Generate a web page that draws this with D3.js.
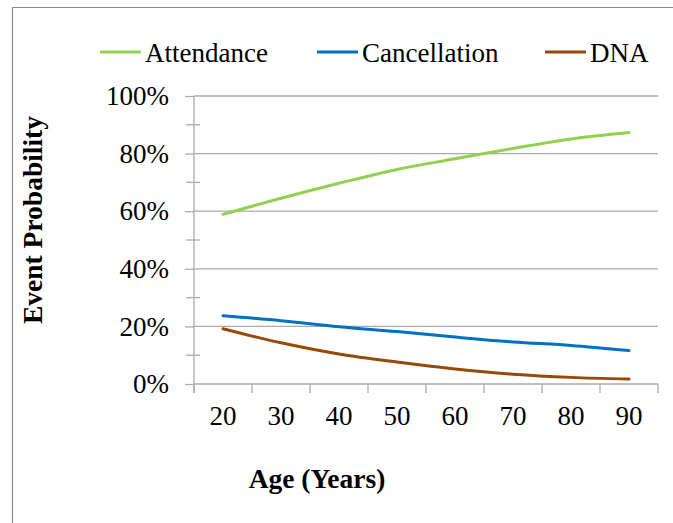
<!DOCTYPE html>
<html>
<head>
<meta charset="utf-8">
<script src="https://cdn.jsdelivr.net/npm/d3@7"></script>
<style>
  html, body { margin: 0; padding: 0; background: #fff; }
  svg { display: block; }
  text { font-family: "Liberation Serif", "Times New Roman", serif; fill: #000; }
</style>
</head>
<body>
<svg id="chart" width="673" height="523"></svg>
<script>
const ages = ["20", "30", "40", "50", "60", "70", "80", "90"];
const attendance   = [0.589, 0.645, 0.697, 0.745, 0.782, 0.818, 0.851, 0.873];
const cancellation = [0.237, 0.220, 0.199, 0.182, 0.163, 0.146, 0.134, 0.116];
const dna          = [0.192, 0.143, 0.104, 0.076, 0.052, 0.034, 0.023, 0.017];
const yTicks = [0, 0.2, 0.4, 0.6, 0.8, 1.0];
const yMinorTicks = [0.1, 0.3, 0.5, 0.7, 0.9];
const seriesNames = ["Attendance", "Cancellation", "DNA"];
const seriesColors = ["#92D050", "#0070C0", "#984807"];
const seriesValues = [attendance, cancellation, dna];

(function () {
const svg = d3.select("#chart");
const pLeft = 194, pRight = 658, pTop = 96, pBottom = 384;

// outer frame
svg.append("path")
  .attr("d", "M12.5,530 L12.5,7.5 L680,7.5")
  .attr("fill", "none").attr("stroke", "#8c8c8c").attr("stroke-width", 1.2);

const x = d3.scaleBand().domain(ages).range([pLeft, pRight]).paddingInner(0).paddingOuter(0);
const y = d3.scaleLinear().domain([0, 1]).range([pBottom, pTop]);

const gridColor = "#ababab";

// gridlines
svg.append("g").selectAll("line").data(yTicks.filter(d => d > 0)).join("line")
  .attr("x1", pLeft).attr("x2", pRight)
  .attr("y1", d => y(d)).attr("y2", d => y(d))
  .attr("stroke", gridColor).attr("stroke-width", 1.3);

// y axis
const yAxis = d3.axisLeft(y).tickValues(yTicks).tickSize(9).tickPadding(16)
  .tickFormat(d3.format(".0%"));
const gy = svg.append("g").attr("transform", `translate(${pLeft},0)`).call(yAxis);
gy.select(".domain").remove();
gy.selectAll(".tick line").attr("stroke", gridColor).attr("stroke-width", 1.3);
gy.selectAll(".tick text").attr("font-size", 27)
  .attr("font-family", "Liberation Serif, Times New Roman, serif").attr("fill", "#000");
svg.append("line").attr("x1", pLeft).attr("x2", pLeft).attr("y1", pTop).attr("y2", pBottom + 9)
  .attr("stroke", gridColor).attr("stroke-width", 1.3);
// minor ticks (cross)
svg.append("g").selectAll("line").data(yMinorTicks).join("line")
  .attr("x1", pLeft - 8).attr("x2", pLeft + 6)
  .attr("y1", d => y(d)).attr("y2", d => y(d))
  .attr("stroke", gridColor).attr("stroke-width", 1.3);

// x axis
const xAxis = d3.axisBottom(x).tickSize(0).tickPadding(22);
const gx = svg.append("g").attr("transform", `translate(0,${pBottom})`).call(xAxis);
gx.select(".domain").remove();
gx.selectAll(".tick text").attr("font-size", 27)
  .attr("font-family", "Liberation Serif, Times New Roman, serif").attr("fill", "#000");
svg.append("line").attr("x1", pLeft).attr("x2", pRight).attr("y1", pBottom).attr("y2", pBottom)
  .attr("stroke", gridColor).attr("stroke-width", 1.3);
// tick marks between categories
const boundaries = ages.map(a => x(a)).concat([x(ages[ages.length - 1]) + x.bandwidth()]);
svg.append("g").selectAll("line").data(boundaries).join("line")
  .attr("x1", d => d).attr("x2", d => d)
  .attr("y1", pBottom).attr("y2", pBottom + 9)
  .attr("stroke", gridColor).attr("stroke-width", 1.3);

// lines
const line = d3.line()
  .x((d, i) => x(ages[i]) + x.bandwidth() / 2)
  .y(d => y(d))
  .curve(d3.curveCatmullRom.alpha(0.5));
seriesValues.forEach((vals, k) => {
  svg.append("path").datum(vals)
    .attr("d", line)
    .attr("fill", "none")
    .attr("stroke", seriesColors[k])
    .attr("stroke-width", 3)
    .attr("stroke-linecap", "round");
});

// legend
const legendX = [100, 317, 545];
seriesNames.forEach((name, k) => {
  const g = svg.append("g").attr("transform", `translate(${legendX[k]},52)`);
  g.append("line").attr("x1", 0).attr("x2", 41).attr("y1", 0).attr("y2", 0)
    .attr("stroke", seriesColors[k]).attr("stroke-width", 3);
  g.append("text").attr("x", 45).attr("y", 10).attr("font-size", 27).text(name);
});

// axis titles
svg.append("text")
  .attr("transform", "translate(42,220) rotate(-90)")
  .attr("text-anchor", "middle").attr("font-size", 27.5).attr("font-weight", "bold")
  .text("Event Probability");
svg.append("text")
  .attr("x", 317).attr("y", 488)
  .attr("text-anchor", "middle").attr("font-size", 27.5).attr("font-weight", "bold")
  .text("Age (Years)");
})();
</script>
</body>
</html>
